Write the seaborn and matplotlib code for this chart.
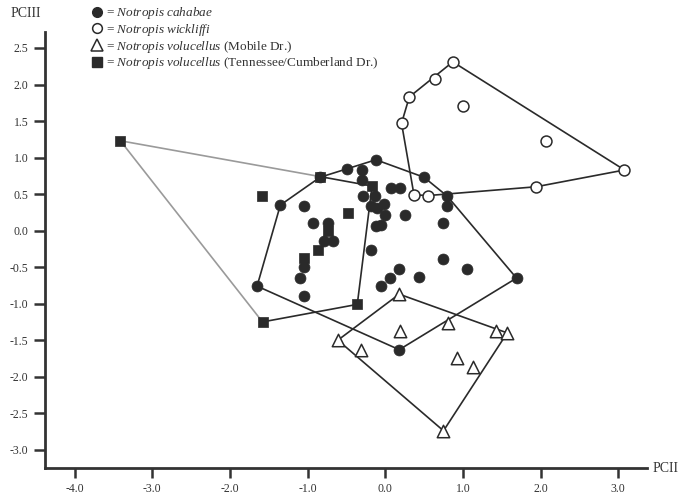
import numpy as np
import pandas as pd
import matplotlib
matplotlib.use("Agg")
import matplotlib.pyplot as plt
import seaborn as sns
from matplotlib.lines import Line2D

# ── Data (PCII, PCIII) ─────────────────────────────────────────────
cahabae_x = [-0.49, -0.30, -0.12, -0.30, 0.50, 0.07, 0.19, 0.80, 0.80, -1.35,
             -1.04, -0.29, -0.13, -0.18, -0.10, -0.02, 0.00, -0.06, -0.12, 0.25,
             -0.93, -0.74, -0.79, -0.67, 0.75, -0.18, -1.04, -1.10, -1.04, -1.65,
             0.18, 0.06, -0.06, 0.43, 0.75, 1.05, 0.18, 1.69, -0.84]
cahabae_y = [0.84, 0.83, 0.97, 0.69, 0.73, 0.59, 0.59, 0.47, 0.34, 0.35,
             0.34, 0.47, 0.47, 0.34, 0.31, 0.36, 0.22, 0.08, 0.07, 0.22,
             0.11, 0.11, -0.14, -0.14, 0.10, -0.27, -0.50, -0.65, -0.89, -0.76,
             -0.52, -0.65, -0.76, -0.64, -0.39, -0.52, -1.63, -0.65, 0.73]

wickliffi_x = [0.87, 0.64, 0.31, 0.21, 1.00, 2.07, 3.08, 1.94, 0.37, 0.55]
wickliffi_y = [2.31, 2.07, 1.83, 1.47, 1.71, 1.22, 0.83, 0.60, 0.49, 0.48]

mobile_x = [0.18, -0.61, -0.31, 0.19, 0.81, 1.42, 1.57, 0.93, 1.13, 0.75]
mobile_y = [-0.87, -1.50, -1.63, -1.38, -1.26, -1.38, -1.40, -1.74, -1.87, -2.74]

tenn_x = [-3.41, -1.59, -0.84, -0.48, -0.17, -0.74, -0.86, -1.04, -0.36, -1.58]
tenn_y = [1.23, 0.47, 0.74, 0.24, 0.61, 0.00, -0.26, -0.38, -1.01, -1.25]

x_ticks = [-4.0, -3.0, -2.0, -1.0, 0.0, 1.0, 2.0, 3.0]
y_ticks = [2.5, 2.0, 1.5, 1.0, 0.5, 0.0, -0.5, -1.0, -1.5, -2.0, -2.5, -3.0]

INK = "#2a2a2a"


def convex_hull(xs, ys):
    pts = sorted(set(zip(xs, ys)))

    def cross(o, a, b):
        return (a[0] - o[0]) * (b[1] - o[1]) - (a[1] - o[1]) * (b[0] - o[0])

    lower, upper = [], []
    for p in pts:
        while len(lower) >= 2 and cross(lower[-2], lower[-1], p) <= 0:
            lower.pop()
        lower.append(p)
    for p in reversed(pts):
        while len(upper) >= 2 and cross(upper[-2], upper[-1], p) <= 0:
            upper.pop()
        upper.append(p)
    return lower[:-1] + upper[:-1]


def draw_hull(ax, xs, ys, faded_vertex=None):
    h = convex_hull(xs, ys)
    h = h + [h[0]]
    for a, b in zip(h[:-1], h[1:]):
        col = INK
        if faded_vertex is not None and (a == faded_vertex or b == faded_vertex):
            col = "#9a9a9a"
        ax.plot([a[0], b[0]], [a[1], b[1]], color=col, lw=1.2, zorder=1)


# ── Style ──────────────────────────────────────────────────────────
sns.set_style("ticks")
plt.rcParams["font.family"] = ["Liberation Serif", "DejaVu Serif"]
plt.rcParams["mathtext.fontset"] = "custom"
plt.rcParams["mathtext.it"] = "Liberation Serif:italic"
plt.rcParams["mathtext.rm"] = "Liberation Serif"

fig = plt.figure(figsize=(7, 4.95), dpi=100)
ax = fig.add_axes([0.0643, 0.0545, 0.860, 0.881])

# ── Outlines ───────────────────────────────────────────────────────
draw_hull(ax, cahabae_x, cahabae_y)
draw_hull(ax, wickliffi_x, wickliffi_y)
draw_hull(ax, mobile_x, mobile_y)
far = min(zip(tenn_x, tenn_y))
draw_hull(ax, tenn_x, tenn_y, faded_vertex=far)

# ── Points ─────────────────────────────────────────────────────────
sns.scatterplot(x=cahabae_x, y=cahabae_y, ax=ax, marker="o", s=62,
                color=INK, edgecolor=INK, linewidth=0.5, zorder=3, legend=False)
sns.scatterplot(x=tenn_x, y=tenn_y, ax=ax, marker="s", s=52,
                color=INK, edgecolor=INK, linewidth=0.5, zorder=4, legend=False)
sns.scatterplot(x=wickliffi_x, y=wickliffi_y, ax=ax, marker="o", s=62,
                color="white", edgecolor=INK, linewidth=1.1, zorder=3, legend=False)
sns.scatterplot(x=mobile_x, y=mobile_y, ax=ax, marker="^", s=80,
                color="white", edgecolor=INK, linewidth=1.1, zorder=3, legend=False)

# ── Axes ───────────────────────────────────────────────────────────
ax.set_xlim(-4.38, 3.37)
ax.set_ylim(-3.25, 2.72)
ax.set_xticks(x_ticks)
ax.set_xticklabels([f"{v:.1f}" for v in x_ticks])
ax.set_yticks(y_ticks)
ax.set_yticklabels([f"{v:.1f}" for v in y_ticks])
sns.despine(ax=ax)
for side in ["left", "bottom"]:
    ax.spines[side].set_linewidth(2.0)
    ax.spines[side].set_color("#333333")
ax.tick_params(axis="x", direction="out", length=7, width=1.8, pad=3.5,
               labelsize=8.5, colors="#333333")
ax.tick_params(axis="y", direction="out", length=8, width=1.8, pad=4,
               labelsize=8.5, colors="#333333")
ax.set_xlabel("")
ax.set_ylabel("")

ax.text(1.01, 0.0, "PCII", transform=ax.transAxes, ha="left", va="center",
        fontsize=10, color="#333333")
fig.text(0.015, 0.972, "PCIII", ha="left", va="center", fontsize=10,
         color="#333333")

# ── Legend ─────────────────────────────────────────────────────────
handles = [
    Line2D([], [], ls="none", marker="o", ms=7, mfc=INK, mec=INK),
    Line2D([], [], ls="none", marker="o", ms=7, mfc="white", mec=INK, mew=1.1),
    Line2D([], [], ls="none", marker="^", ms=8, mfc="white", mec=INK, mew=1.1),
    Line2D([], [], ls="none", marker="s", ms=7, mfc=INK, mec=INK),
]
labels = [
    r"= $\mathit{Notropis\ cahabae}$",
    r"= $\mathit{Notropis\ wickliffi}$",
    r"= $\mathit{Notropis\ volucellus}$ (Mobile Dr.)",
    r"= $\mathit{Notropis\ volucellus}$ (Tennessee/Cumberland Dr.)",
]
fig.legend(handles, labels, loc="upper left", bbox_to_anchor=(0.118, 1.008),
           frameon=False, handlelength=0.8, handletextpad=0.3,
           labelspacing=0.05, fontsize=9.5, borderpad=0.2,
           labelcolor="#333333")

fig.savefig("out.png", dpi=100)
